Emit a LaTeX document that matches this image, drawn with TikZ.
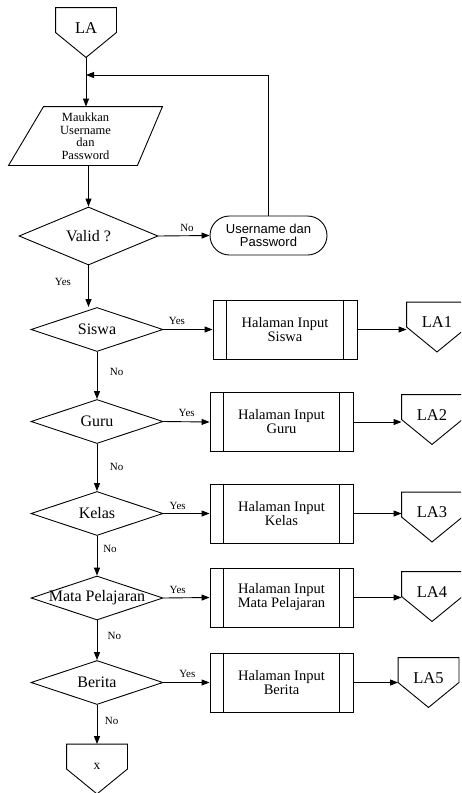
\documentclass[tikz,border=0pt]{standalone}
\usepackage{fontspec}
\setmainfont{Liberation Serif}
\newfontfamily\arialf{Liberation Sans}
\usetikzlibrary{shapes.geometric,shapes.misc,arrows.meta}
\setlength{\lineskiplimit}{-20pt}
\begin{document}
\begin{tikzpicture}[x=1pt,y=-1pt,line width=0.9pt,
  arr/.style={-{Triangle[length=8pt,width=6pt]}},
  conn/.style={inner sep=0pt,minimum width=60pt,minimum height=49pt,
    text height=11pt,text depth=10pt,font=\fontsize{16.5}{18}\selectfont,
    append after command={\pgfextra{\draw[line width=0.9pt]
      (\tikzlastnode.north west) -- (\tikzlastnode.north east) -- (\tikzlastnode.east)
      -- (\tikzlastnode.south) -- (\tikzlastnode.west) -- cycle;}}},
  proc/.style={draw,inner sep=0pt,minimum width=143pt,minimum height=59pt,align=center,
    font=\fontsize{14.5}{14}\selectfont,
    append after command={\pgfextra{
      \draw[line width=0.9pt] ([xshift=14pt]\tikzlastnode.north west) -- ([xshift=14pt]\tikzlastnode.south west);
      \draw[line width=0.9pt] ([xshift=-14pt]\tikzlastnode.north east) -- ([xshift=-14pt]\tikzlastnode.south east);}}},
  dia/.style={diamond,draw,inner sep=0pt,minimum width=132pt,minimum height=44pt,
    font=\fontsize{16}{18}\selectfont},
  parabox/.style={inner sep=0pt,minimum width=153pt,minimum height=58pt,align=center,
    font=\fontsize{12.5}{12.5}\selectfont,
    append after command={\pgfextra{\draw[line width=0.9pt]
      ([xshift=35pt]\tikzlastnode.north west) -- (\tikzlastnode.north east)
      -- ([xshift=-25pt]\tikzlastnode.south east) -- (\tikzlastnode.south west) -- cycle;}}},
  term/.style={rounded rectangle,draw,inner sep=0pt,minimum width=117pt,minimum height=39pt,
    align=center,font=\arialf\fontsize{13}{12.5}\selectfont},
  lbl/.style={inner sep=0pt,font=\fontsize{11}{13}\selectfont}]
\useasboundingbox (0,0) rectangle (461,793);
\clip (0,0) rectangle (461,793);

% nodes
\node[conn] (la) at (86,32.5) {LA};
\node[parabox] (para) at (85.5,136) {Maukkan\\Username\\dan\\Password};
\node[dia,minimum width=139pt,minimum height=58pt] (valid) at (88.5,236) {\makebox[0pt]{Valid ?}};
\node[term] (user) at (268.5,235.5) {Username dan\\Password};
\coordinate (fb) at (86,75);

\node[dia] (siswa) at (97,329.5) {\makebox[0pt]{Siswa}};
\node[dia] (guru) at (97,421.5) {\makebox[0pt]{Guru}};
\node[dia] (kelas) at (97,513.5) {\makebox[0pt]{Kelas}};
\node[dia] (mata) at (97,598) {\makebox[0pt]{Mata Pelajaran}};
\node[dia] (berita) at (97,682.5) {\makebox[0pt]{Berita}};

\node[proc,minimum width=144pt] (psiswa) at (285,329.5) {Halaman Input\\Siswa};
\node[proc] (pguru) at (281.5,422) {Halaman Input\\Guru};
\node[proc] (pkelas) at (281.5,513.5) {Halaman Input\\Kelas};
\node[proc] (pmata) at (281.5,597.5) {Halaman Input\\Mata Pelajaran};
\node[proc] (pberita) at (281.5,682.5) {Halaman Input\\Berita};

\node[conn] (la1) at (437,327) {LA1};
\node[conn] (la2) at (432,419.5) {LA2};
\node[conn] (la3) at (432,517) {LA3};
\node[conn] (la4) at (432,596.5) {LA4};
\node[conn] (la5) at (428.5,682.5) {LA5};
\node[conn,font=\fontsize{13.5}{15}\selectfont] (xc) at (97,769) {x};

% connectors
\draw[arr] (la.south) -- (la.south |- para.north);
\draw[arr] (valid.north |- para.south) -- (valid.north);
\draw[arr] (valid.east) -- (user.west);
\draw[arr] (user.north) |- (fb);
\draw[arr] (valid.south) -- (valid.south |- siswa.north);

\draw[arr] (siswa.east) -- (psiswa.west);
\draw[arr] (guru.east) -- (pguru.west);
\draw[arr] (kelas.east) -- (pkelas.west);
\draw[arr] (mata.east) -- (pmata.west);
\draw[arr] (berita.east) -- (pberita.west);

\draw[arr] (psiswa.east) -- (psiswa.east -| la1.west);
\draw[arr] (pguru.east) -- (pguru.east -| la2.west);
\draw[arr] (pkelas.east) -- (pkelas.east -| la3.west);
\draw[arr] (pmata.east) -- (pmata.east -| la4.west);
\draw[arr] (pberita.east) -- (pberita.east -| la5.west);

\draw[arr] (siswa.south) -- (guru.north);
\draw[arr] (guru.south) -- (kelas.north);
\draw[arr] (kelas.south) -- (mata.north);
\draw[arr] (mata.south) -- (berita.north);
\draw[arr] (berita.south) -- (xc.north);

% labels
\node[lbl] (lno0) at (187,228) {No};
\node[lbl] (lyes0) at (63,282) {Yes};
\node[lbl] (lyes1) at (177,321) {Yes};
\node[lbl] (lyes2) at (186.7,413.3) {Yes};
\node[lbl] (lyes3) at (177.7,505.7) {Yes};
\node[lbl] (lyes4) at (177.7,590) {Yes};
\node[lbl] (lyes5) at (187.3,674) {Yes};
\node[lbl] (lno1) at (116.7,372.3) {No};
\node[lbl] (lno2) at (116.7,467) {No};
\node[lbl] (lno3) at (110,549) {No};
\node[lbl] (lno4) at (114.3,635.7) {No};
\node[lbl] (lno5) at (111.7,721) {No};
\end{tikzpicture}
\end{document}
